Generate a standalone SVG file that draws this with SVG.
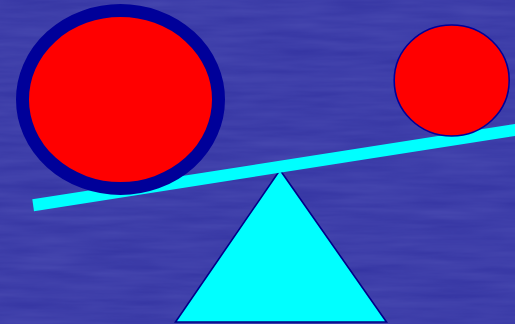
<svg xmlns="http://www.w3.org/2000/svg" width="515" height="324" viewBox="0 0 515 324">
<defs>
<filter id="tex" x="0" y="0" width="100%" height="100%">
<feTurbulence type="fractalNoise" baseFrequency="0.012 0.12" numOctaves="3" seed="4" result="n"/>
<feColorMatrix in="n" type="matrix" values="0 0 0 0 0.3  0 0 0 0 0.32  0 0 0 0 0.8  0 0 0 0.35 0"/>
</filter>
<style>
.ball{fill:#ff0000;stroke:#000099}
.cyan{fill:#00ffff}
</style>
</defs>
<rect width="515" height="324" fill="#3434a2"/>
<rect width="515" height="324" filter="url(#tex)" opacity="0.6"/>
<g id="fulcrum">
<polygon class="cyan" points="280,170 175.5,322 386.5,322" stroke="#000088" stroke-width="1.6" stroke-linejoin="miter"/>
</g>
<g id="beam">
<polygon class="cyan" points="32.3,199.3 515,124 515,136 34,211.3"/>
</g>
<g id="big-ball">
<ellipse class="ball" cx="120.5" cy="99.5" rx="98" ry="89" stroke-width="13"/>
</g>
<g id="small-ball">
<ellipse class="ball" cx="451.7" cy="80.5" rx="57.5" ry="55.5" stroke-width="1.6"/>
</g>
</svg>
